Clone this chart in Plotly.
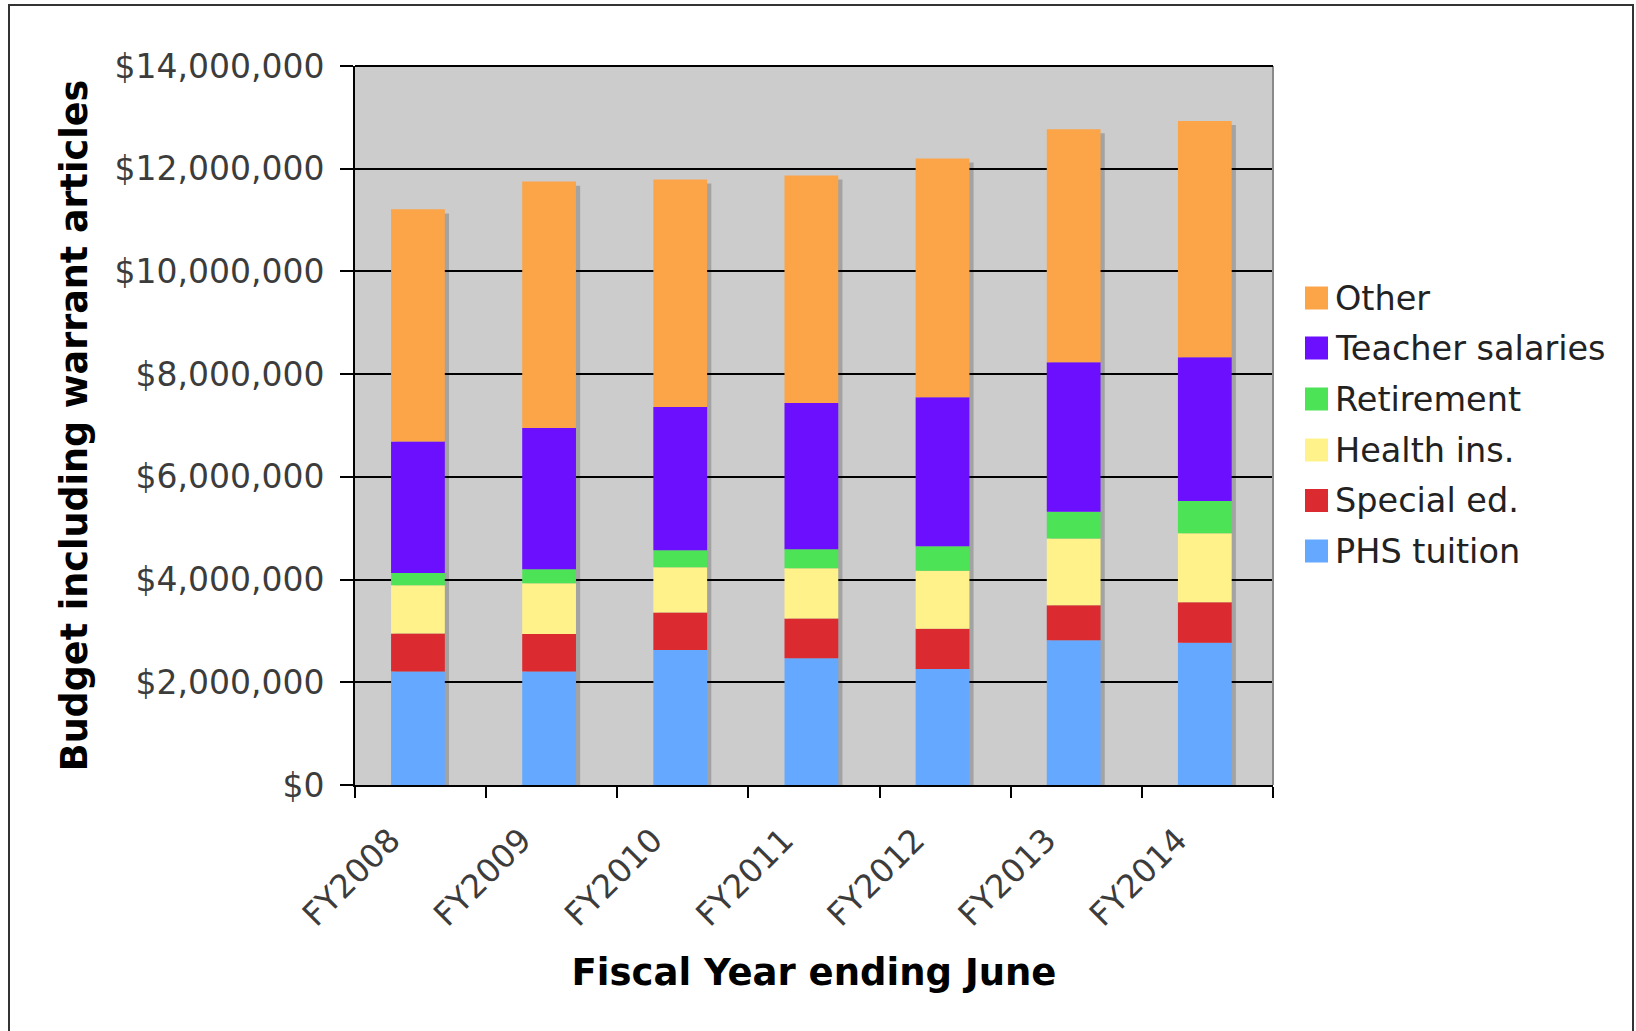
import numpy as np
import plotly.graph_objects as go

# ---- data (dollars) ----
years = ["FY2008", "FY2009", "FY2010", "FY2011", "FY2012", "FY2013", "FY2014"]
phs_tuition = [2.21e6, 2.21e6, 2.63e6, 2.47e6, 2.26e6, 2.82e6, 2.77e6]
special_ed = [0.74e6, 0.73e6, 0.73e6, 0.77e6, 0.78e6, 0.68e6, 0.79e6]
health_ins = [0.94e6, 0.99e6, 0.88e6, 0.98e6, 1.13e6, 1.30e6, 1.34e6]
retirement = [0.24e6, 0.27e6, 0.33e6, 0.37e6, 0.48e6, 0.52e6, 0.63e6]
teacher_salaries = [2.56e6, 2.75e6, 2.79e6, 2.85e6, 2.90e6, 2.91e6, 2.80e6]
other = [4.52e6, 4.80e6, 4.43e6, 4.43e6, 4.65e6, 4.54e6, 4.60e6]

series_names = ["PHS tuition", "Special ed.", "Health ins.", "Retirement", "Teacher salaries", "Other"]
series_values = [phs_tuition, special_ed, health_ins, retirement, teacher_salaries, other]
series_colors = ["#64A9FF", "#DC2B30", "#FFF28A", "#4DE356", "#6B0FFE", "#FCA448"]
y_ticks = [0, 2e6, 4e6, 6e6, 8e6, 10e6, 12e6, 14e6]

# ---- layout geometry (pixels) ----
W, H = 1636, 1031
L, R, T, B = 355, 1273, 66, 785
FONT = "DejaVu Sans"

def px(x):
    return (x - L) / (R - L)

def py(y):
    return (B - y) / (B - T)

BAR_W = 0.41
BAR_OFF = -BAR_W / 2 - 0.02
fig = go.Figure()

totals = np.sum(np.array(series_values), axis=0)
# drop shadow behind each stacked bar
fig.add_trace(go.Bar(
    x=years, y=totals - 0.08e6, base=0, width=BAR_W, offset=BAR_OFF + 0.032,
    marker=dict(color="rgba(0,0,0,0.20)", line=dict(width=0)),
    hoverinfo="skip", showlegend=False,
))

base = np.zeros(len(years))
for name, vals, col in zip(series_names, series_values, series_colors):
    v = np.array(vals)
    fig.add_trace(go.Bar(
        x=years, y=v, base=base.copy(), name=name, width=BAR_W, offset=BAR_OFF,
        marker=dict(color=col, line=dict(width=0)), showlegend=False,
    ))
    base = base + v

# custom legend (top entry = last series)
legend_y = [298, 348, 399, 450, 500.5, 551]
for i, (name, col) in enumerate(zip(series_names[::-1], series_colors[::-1])):
    yc = legend_y[i]
    fig.add_shape(type="rect", xref="paper", yref="paper",
                  x0=px(1305), x1=px(1328), y0=py(yc + 11.5), y1=py(yc - 11.5),
                  fillcolor=col, line=dict(width=0))
    fig.add_annotation(xref="paper", yref="paper", x=px(1333), y=py(yc),
                       xanchor="left", yanchor="middle", text=name, showarrow=False,
                       font=dict(family=FONT, size=33.5, color="#222222"))

# right edge of plot area (gray) and top edge
fig.add_shape(type="line", xref="paper", yref="paper", x0=1, x1=1, y0=0, y1=1,
              line=dict(color="#8a8a8a", width=2))
fig.add_shape(type="line", xref="paper", yref="paper", x0=0, x1=1, y0=1, y1=1,
              line=dict(color="black", width=2))
# outer frame
fig.add_shape(type="rect", xref="paper", yref="paper",
              x0=px(9), x1=px(1633), y0=py(1040), y1=py(5),
              line=dict(color="#333333", width=2), fillcolor="rgba(0,0,0,0)")

fig.update_layout(
    width=W, height=H,
    margin=dict(l=L, r=W - R, t=T, b=H - B, pad=0),
    barmode="overlay",
    paper_bgcolor="white",
    plot_bgcolor="#CCCCCC",
    showlegend=False,
    font=dict(family=FONT, size=32, color="#3c3c3c"),
    xaxis=dict(
        type="category", categoryorder="array", categoryarray=years,
        range=[-0.5, len(years) - 0.5],
        tickson="boundaries", ticks="outside", ticklen=11, tickwidth=2, tickcolor="black",
        showline=True, linecolor="black", linewidth=2, showgrid=False,
        tickangle=-45, tickfont=dict(family=FONT, size=32.5, color="#3c3c3c"),
        ticklabelstandoff=21, ticklabelshift=-30,
        title=dict(text="<b>Fiscal Year ending June</b>", standoff=26,
                   font=dict(family=FONT, size=37, color="black")),
    ),
    yaxis=dict(
        range=[0, 14e6], tickvals=y_ticks, tickformat="$,.0f",
        ticks="outside", ticklen=13, tickwidth=2, tickcolor="black",
        showline=True, linecolor="black", linewidth=2,
        showgrid=True, gridcolor="black", gridwidth=2, zeroline=False,
        tickfont=dict(family=FONT, size=33, color="#3c3c3c"),
        ticklabelstandoff=9,
        title=dict(text="<b>Budget including warrant articles</b>", standoff=16,
                   font=dict(family=FONT, size=36.5, color="black")),
    ),
)

fig.write_html("out.html")
